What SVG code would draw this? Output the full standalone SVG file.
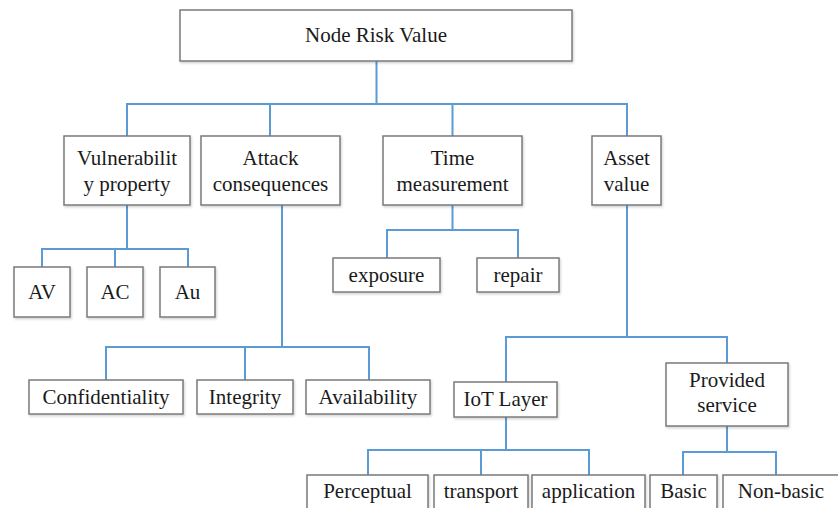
<svg xmlns="http://www.w3.org/2000/svg" width="838" height="508" viewBox="0 0 838 508">
<style>
.box{fill:#ffffff;stroke:#7a7a7a;stroke-width:1.5;filter:url(#sh)}
.t{font-size:21px;fill:#1a1a1a;text-anchor:middle}
.c{fill:none;stroke:#5b9bd5;stroke-width:2}
</style>
<defs>
<filter id="sh" x="-10%" y="-10%" width="130%" height="140%">
<feDropShadow dx="1" dy="1.5" stdDeviation="1.2" flood-color="#000" flood-opacity="0.18"/>
</filter>
</defs>
<rect width="838" height="508" fill="#ffffff"/>
<g id="connectors">
<path class="c" d="M376.5 61V104M127 136V104H627V136M270 104V136M452.5 104V136"/>
<path class="c" d="M127 205V249M42 267V249H188V267M115 249V267"/>
<path class="c" d="M282 205V347M106 380V347H369V380M245 347V380"/>
<path class="c" d="M452.5 205V230M387 258V230H518V258"/>
<path class="c" d="M627 205V337M506 382V337H727V363"/>
<path class="c" d="M506 417V450M368 475V450H589V475M481 450V475"/>
<path class="c" d="M727 426V452M683 475V452H776V475"/>
</g>
<g font-family="Liberation Serif, Times New Roman, serif">
<g id="root"><rect class="box" x="180" y="10" width="392" height="51"/><text class="t" x="376" y="42">Node Risk Value</text></g>
<g id="vulnerability"><rect class="box" x="64" y="136" width="126" height="69"/><text class="t" x="127" y="165">Vulnerabilit</text><text class="t" x="127" y="191">y property</text></g>
<g id="attack"><rect class="box" x="201" y="136" width="139" height="69"/><text class="t" x="270.5" y="165">Attack</text><text class="t" x="270.5" y="191">consequences</text></g>
<g id="time"><rect class="box" x="383" y="136" width="139" height="69"/><text class="t" x="452.5" y="165">Time</text><text class="t" x="452.5" y="191">measurement</text></g>
<g id="asset"><rect class="box" x="592" y="136" width="69" height="69"/><text class="t" x="626.5" y="165">Asset</text><text class="t" x="626.5" y="191">value</text></g>
<g id="av"><rect class="box" x="14" y="267" width="56" height="50"/><text class="t" x="42" y="299">AV</text></g>
<g id="ac"><rect class="box" x="87" y="267" width="56" height="50"/><text class="t" x="115" y="299">AC</text></g>
<g id="au"><rect class="box" x="160" y="267" width="55" height="50"/><text class="t" x="187.5" y="299">Au</text></g>
<g id="exposure"><rect class="box" x="333" y="258" width="107" height="34"/><text class="t" x="386.5" y="282">exposure</text></g>
<g id="repair"><rect class="box" x="477" y="258" width="82" height="34"/><text class="t" x="518" y="282">repair</text></g>
<g id="confidentiality"><rect class="box" x="29" y="380" width="154" height="34"/><text class="t" x="106" y="404">Confidentiality</text></g>
<g id="integrity"><rect class="box" x="197" y="380" width="96" height="34"/><text class="t" x="245" y="404">Integrity</text></g>
<g id="availability"><rect class="box" x="306" y="380" width="124" height="34"/><text class="t" x="368" y="404">Availability</text></g>
<g id="iot"><rect class="box" x="454" y="382" width="103" height="35"/><text class="t" x="505.5" y="406">IoT Layer</text></g>
<g id="provided"><rect class="box" x="666" y="363" width="122" height="63"/><text class="t" x="727" y="387">Provided</text><text class="t" x="727" y="412">service</text></g>
<g id="perceptual"><rect class="box" x="307" y="475" width="121" height="40"/><text class="t" x="367.5" y="498">Perceptual</text></g>
<g id="transport"><rect class="box" x="434" y="475" width="94" height="40"/><text class="t" x="481" y="498">transport</text></g>
<g id="application"><rect class="box" x="532" y="475" width="113" height="40"/><text class="t" x="588.5" y="498">application</text></g>
<g id="basic"><rect class="box" x="650" y="475" width="67" height="40"/><text class="t" x="683.5" y="498">Basic</text></g>
<g id="nonbasic"><rect class="box" x="723" y="475" width="118" height="40"/><text class="t" x="781" y="498">Non-basic</text></g>
</g>
</svg>
